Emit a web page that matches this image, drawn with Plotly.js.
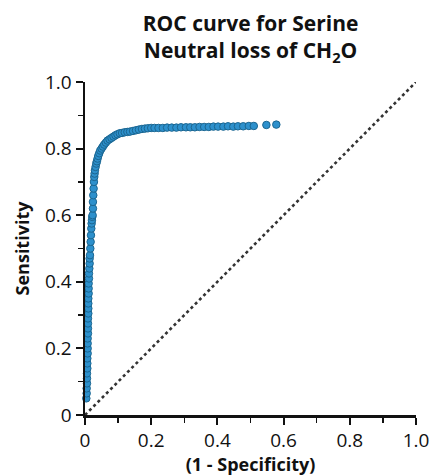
<!DOCTYPE html>
<html>
<head>
<meta charset="utf-8">
<script src="https://cdn.plot.ly/plotly-3.0.1.min.js"></script>
<style>html,body{margin:0;padding:0;background:#fff;}#chart{width:432px;height:476px;}</style>
</head>
<body>
<div id="chart"></div>
<script>
// ROC curve points (1 - specificity, sensitivity)
const fpr = [0.004,0.005,0.005,0.006,0.006,0.006,0.007,0.007,0.007,0.008,0.008,0.008,0.008,0.009,0.009,0.009,0.009,0.010,0.010,0.010,0.010,0.011,0.011,0.011,0.012,
  0.012,0.013,0.014,0.014,0.015,0.016,0.017,0.018,0.019,0.020,0.021,0.022,0.023,0.024,0.024,0.025,0.026,0.027,0.028,0.029,0.030,0.032,0.034,0.036,0.038,
  0.040,0.043,0.046,0.050,0.054,0.058,0.063,0.068,0.074,0.080,0.086,0.092,0.098,0.105,0.112,0.120,0.128,0.136,0.145,0.154,0.163,0.172,0.181,0.190,0.200,
  0.210,0.222,0.235,0.248,0.262,0.276,0.290,0.305,0.318,0.332,0.346,0.360,0.374,0.388,0.402,0.418,0.432,0.448,0.462,0.478,0.495,0.510,0.548,0.578];
const tpr = [0.050,0.065,0.080,0.095,0.110,0.125,0.140,0.155,0.170,0.185,0.200,0.215,0.230,0.245,0.260,0.275,0.290,0.305,0.320,0.335,0.350,0.365,0.380,0.395,0.410,
  0.425,0.440,0.455,0.470,0.480,0.500,0.520,0.540,0.560,0.575,0.585,0.595,0.600,0.620,0.640,0.660,0.680,0.700,0.715,0.725,0.735,0.745,0.755,0.762,0.770,
  0.778,0.786,0.794,0.800,0.806,0.812,0.818,0.824,0.828,0.832,0.836,0.840,0.843,0.846,0.847,0.849,0.850,0.851,0.853,0.855,0.857,0.859,0.860,0.861,0.862,
  0.862,0.862,0.862,0.863,0.863,0.863,0.864,0.864,0.864,0.864,0.865,0.865,0.865,0.866,0.866,0.866,0.867,0.866,0.867,0.867,0.868,0.868,0.871,0.872];
const diagX = [0, 1];
const diagY = [0, 1];
const tickVals = [0, 0.2, 0.4, 0.6, 0.8, 1.0];
const tickText = ["0", "0.2", "0.4", "0.6", "0.8", "1.0"];

const font = '"Open Sans", "Noto Sans", sans-serif';

const traces = [
  {x: diagX, y: diagY, mode: 'lines', line: {color: '#333333', width: 2.6, dash: 'dot'}, hoverinfo: 'skip', showlegend: false},
  {x: fpr, y: tpr, mode: 'markers', cliponaxis: false,
   marker: {size: 7.5, color: '#2d90cc', line: {color: '#1b6691', width: 1}}, showlegend: false}
];

const axisCommon = {
  range: [0, 1], showgrid: false, zeroline: false, showline: true, linecolor: '#111', linewidth: 2.5,
  ticks: 'outside', ticklen: 7, tickwidth: 2, tickcolor: '#111',
  tickvals: tickVals, ticktext: tickText,
  tickfont: {family: font, size: 19, color: '#111'},
  minor: {tickvals: [0.1, 0.3, 0.5, 0.7, 0.9], ticks: 'outside', ticklen: 5, tickwidth: 1.5, tickcolor: '#111'},
  fixedrange: true
};

const layout = {
  width: 432, height: 476,
  margin: {l: 85, r: 16, t: 82, b: 61},
  paper_bgcolor: '#fff', plot_bgcolor: '#fff',
  title: {text: '<b>ROC curve for Serine</b><br><b>Neutral loss of CH<sub>2</sub>O</b>',
          font: {family: font, size: 21, color: '#111'}, x: 0.58, xanchor: 'center', y: 0.935, yanchor: 'top'},
  xaxis: Object.assign({}, axisCommon, {title: {text: '<b>(1 - Specificity)</b>', font: {family: font, size: 18, color: '#111'}, standoff: 7}}),
  yaxis: Object.assign({}, axisCommon, {title: {text: '<b>Sensitivity</b>', font: {family: font, size: 18, color: '#111'}, standoff: 11}})
};

Plotly.newPlot('chart', traces, layout, {displayModeBar: false, staticPlot: true});
</script>
</body>
</html>
